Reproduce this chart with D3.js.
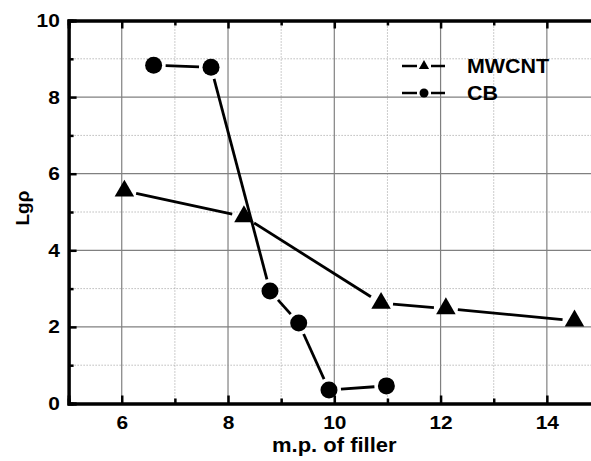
<!DOCTYPE html>
<html>
<head>
<meta charset="utf-8">
<script src="https://cdn.jsdelivr.net/npm/d3@7"></script>
<style>
  body { margin: 0; background: #fff; }
  svg { display: block; font-family: Arial, "Liberation Sans", sans-serif; font-weight: bold; }
</style>
</head>
<body>
<svg id="chart" width="591" height="461"></svg>
<script>
// data
const mwcntX = [6.05, 8.3, 10.88, 12.1, 14.52];
const mwcntY = [5.55, 4.88, 2.62, 2.48, 2.16];
const cbX = [6.6, 7.68, 8.79, 9.33, 9.9, 10.98];
const cbY = [8.83, 8.78, 2.94, 2.1, 0.35, 0.46];

const xMajor = [6, 8, 10, 12, 14];
const xMinor = [7, 9, 11, 13];
const yMajor = [0, 2, 4, 6, 8, 10];
const yMinor = [1, 3, 5, 7, 9];

const seriesNames = ['MWCNT', 'CB'];

const svg = d3.select('#chart');
const stretch = 'scale(1.1,1)'; // the original text is a bit wide

const x = d3.scaleLinear().domain([5, 15]).range([68.6, 600]);
const y = d3.scaleLinear().domain([0, 10]).range([403.5, 20.5]);

// grid
const grid = svg.append('g');
xMajor.forEach(v => {
  grid.append('line')
    .attr('x1', x(v)).attr('x2', x(v)).attr('y1', y(10)).attr('y2', y(0))
    .attr('stroke', '#808080').attr('stroke-width', 1.2);
});
xMinor.forEach(v => {
  grid.append('line')
    .attr('x1', x(v)).attr('x2', x(v)).attr('y1', y(10)).attr('y2', y(0))
    .attr('stroke', '#999').attr('stroke-width', 1).attr('stroke-dasharray', '1,2');
});
yMajor.filter(v => v > 0 && v < 10).forEach(v => {
  grid.append('line')
    .attr('x1', x(5)).attr('x2', x(15)).attr('y1', y(v)).attr('y2', y(v))
    .attr('stroke', '#808080').attr('stroke-width', 1.2);
});
yMinor.forEach(v => {
  grid.append('line')
    .attr('x1', x(5)).attr('x2', x(15)).attr('y1', y(v)).attr('y2', y(v))
    .attr('stroke', '#999').attr('stroke-width', 1).attr('stroke-dasharray', '1,2');
});

// axes (ticks inward)
const axisBottomG = svg.append('g').attr('transform', `translate(0,${y(0)})`)
  .call(d3.axisBottom(x).tickValues(xMajor).tickSize(-8).tickPadding(19).tickFormat(d3.format('d')));
const axisBottomMinorG = svg.append('g').attr('transform', `translate(0,${y(0)})`)
  .call(d3.axisBottom(x).tickValues(xMinor).tickSize(-5).tickFormat(''));
const axisTopG = svg.append('g').attr('transform', `translate(0,${y(10)})`)
  .call(d3.axisTop(x).tickValues(xMajor).tickSize(-8).tickFormat(''));
const axisTopMinorG = svg.append('g').attr('transform', `translate(0,${y(10)})`)
  .call(d3.axisTop(x).tickValues(xMinor).tickSize(-5).tickFormat(''));
const axisLeftG = svg.append('g').attr('transform', `translate(${x(5)},0)`)
  .call(d3.axisLeft(y).tickValues(yMajor).tickSize(-8).tickPadding(8).tickFormat(d3.format('d')));
const axisLeftMinorG = svg.append('g').attr('transform', `translate(${x(5)},0)`)
  .call(d3.axisLeft(y).tickValues(yMinor).tickSize(-5).tickFormat(''));

[axisBottomG, axisBottomMinorG, axisTopG, axisTopMinorG, axisLeftG, axisLeftMinorG].forEach(g => {
  g.select('.domain').attr('stroke', '#000').attr('stroke-width', 3);
  g.selectAll('.tick line').attr('stroke', '#000').attr('stroke-width', 2.5);
  g.selectAll('.tick text').attr('fill', '#000').attr('font-size', 19).attr('font-weight', 'bold')
    .attr('font-family', 'Arial, "Liberation Sans", sans-serif').attr('transform', stretch);
});
axisBottomG.selectAll('.tick text').attr('dy', '0.35em');

// axis titles
svg.append('text')
  .attr('transform', `translate(${(x(5) + x(15)) / 2},452) ${stretch}`)
  .attr('text-anchor', 'middle').attr('font-size', 20).text('m.p. of filler');

svg.append('text')
  .attr('transform', `translate(29,208) rotate(-90)`)
  .attr('text-anchor', 'middle').attr('font-size', 19).text('Lgρ');

// series lines with gaps at markers
function drawGappedLine(xs, ys, gap) {
  for (let i = 0; i < xs.length - 1; i++) {
    const x1 = x(xs[i]), y1 = y(ys[i]), x2 = x(xs[i + 1]), y2 = y(ys[i + 1]);
    const len = Math.hypot(x2 - x1, y2 - y1);
    const ux = (x2 - x1) / len, uy = (y2 - y1) / len;
    svg.append('line')
      .attr('x1', x1 + ux * gap).attr('y1', y1 + uy * gap)
      .attr('x2', x2 - ux * gap).attr('y2', y2 - uy * gap)
      .attr('stroke', '#000').attr('stroke-width', 2.8);
  }
}
drawGappedLine(mwcntX, mwcntY, 12);
drawGappedLine(cbX, cbY, 12);

const tri = d3.symbol(d3.symbolTriangle, 165);
mwcntX.forEach((v, i) => {
  svg.append('path').attr('d', tri())
    .attr('transform', `translate(${x(v)},${y(mwcntY[i])})`).attr('fill', '#000');
});
cbX.forEach((v, i) => {
  svg.append('circle').attr('cx', x(v)).attr('cy', y(cbY[i])).attr('r', 8.5).attr('fill', '#000');
});

// legend
const legend = svg.append('g');
const legendY = [66, 93];
seriesNames.forEach((name, i) => {
  const ly = legendY[i];
  legend.append('line').attr('x1', 402).attr('x2', 417).attr('y1', ly).attr('y2', ly)
    .attr('stroke', '#000').attr('stroke-width', 2.5);
  legend.append('line').attr('x1', 431).attr('x2', 445).attr('y1', ly).attr('y2', ly)
    .attr('stroke', '#000').attr('stroke-width', 2.5);
  if (i === 0) {
    legend.append('path').attr('d', d3.symbol(d3.symbolTriangle, 45)())
      .attr('transform', `translate(424,${ly})`).attr('fill', '#000');
  } else {
    legend.append('circle').attr('cx', 424).attr('cy', ly).attr('r', 4.5).attr('fill', '#000');
  }
  legend.append('text').attr('transform', `translate(467,${ly + 7}) ${stretch}`)
    .attr('font-size', 19.5).text(name);
});
</script>
</body>
</html>
